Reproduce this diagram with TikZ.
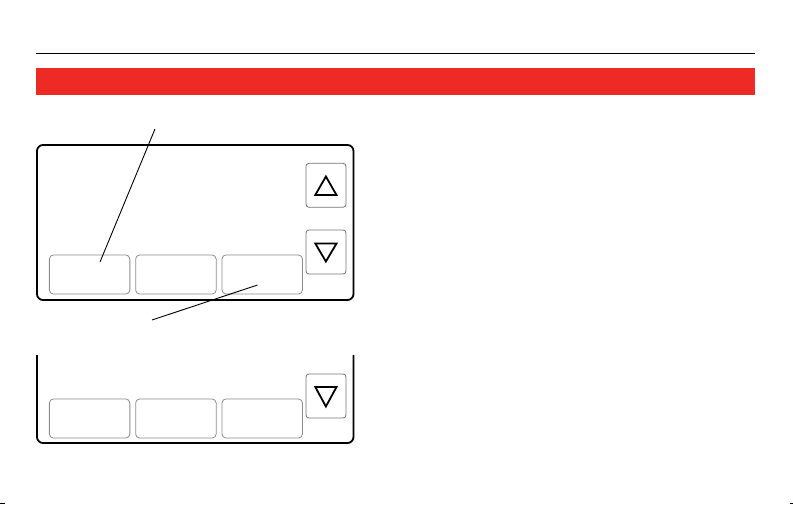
\documentclass[tikz,border=0pt]{standalone}
\usepackage{xcolor}
\usetikzlibrary{positioning}
\definecolor{bannerred}{RGB}{238,42,36}
\tikzset{
  softkey/.style={draw=black!45, line width=0.8pt, rounded corners=4pt,
    minimum width=80.5pt, minimum height=39pt, inner sep=0pt},
  arrowkey/.style={draw=black!55, line width=0.8pt, rounded corners=3pt,
    minimum width=40pt, minimum height=44pt, inner sep=0pt},
  casing/.style={line width=1.8pt, rounded corners=6pt},
  leader/.style={line width=0.9pt},
  arrowmark/.style={line width=1.8pt, line join=miter}
}

\begin{document}
\begin{tikzpicture}[x=1pt, y=-1pt]
\useasboundingbox (0,0) rectangle (793,505);

% header rule and red banner
\draw[line width=1.3pt] (36,53.5) -- (755,53.5);
\fill[bannerred] (36,68) rectangle (755,95);

% upper display
\draw[casing] (37,145) rectangle (353.5,300);
\node[softkey] (keyA) at (89.6,274.5) {};
\node[softkey, right=5pt of keyA] (keyB) {};
\node[softkey, right=5pt of keyB] (keyC) {};
\node[arrowkey] (up) at (326,185.3) {};
\node[arrowkey] (down) at (326,252) {};
\draw[arrowmark] (315.3,195) -- (325.9,176.5) -- (336.5,195) -- cycle;
\draw[arrowmark] (315.3,243.5) -- (325.9,261.5) -- (336.5,243.5) -- cycle;

% leader lines
\coordinate (tipA) at (155,129);
\coordinate (endA) at (100,262);
\coordinate (tipC) at (152,320);
\coordinate (endC) at (257.5,285);
\draw[leader] (tipA) -- (endA);
\draw[leader] (tipC) -- (endC);

% lower display (cut off at top)
\draw[casing] (37,355) -- (37,443) -- (353.5,443) -- (353.5,355);
\node[softkey] (keyD) at (89.6,418.5) {};
\node[softkey, right=5pt of keyD] (keyE) {};
\node[softkey, right=5pt of keyE] (keyF) {};
\node[arrowkey] (down2) at (326,396) {};
\draw[arrowmark] (315.3,387) -- (325.9,406.5) -- (336.5,387) -- cycle;

% crop marks
\draw[line width=1.2pt] (0,503.5) -- (5,503.5);
\draw[line width=1.2pt] (790,503.5) -- (793,503.5);
\end{tikzpicture}
\end{document}
